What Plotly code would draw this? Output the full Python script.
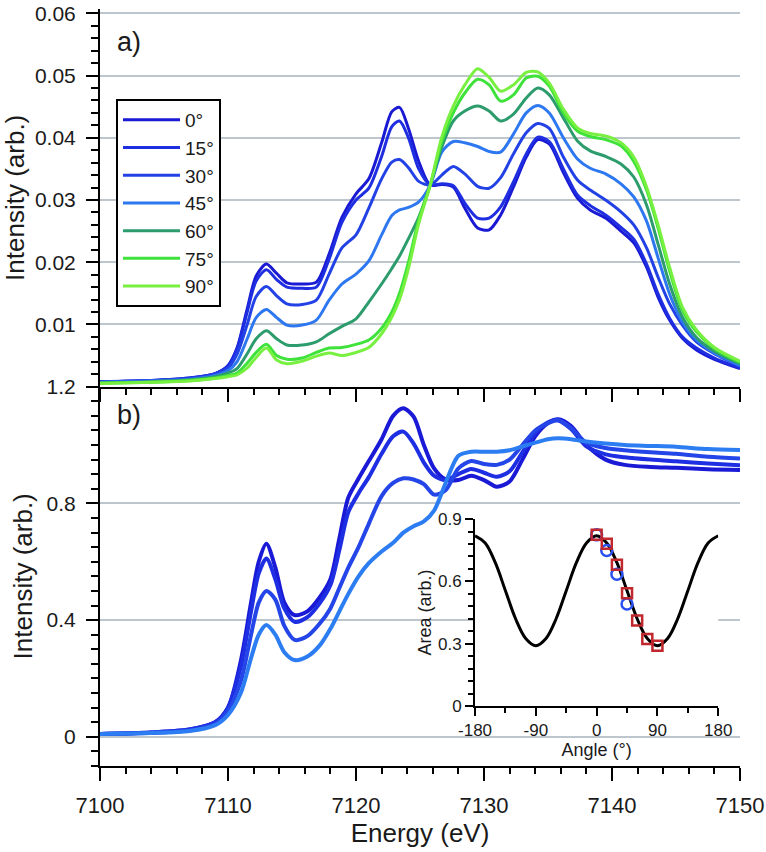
import plotly.graph_objects as go

# ---------------- data ----------------
angle_labels = ["0°", "15°", "30°", "45°", "60°", "75°", "90°"]

energy_top = [7100, 7104, 7107, 7109, 7110, 7110.7, 7111.5, 7112.2, 7113.0, 7113.8, 7114.6, 7115.8,
              7116.9, 7117.9, 7118.9, 7120.0, 7121.0, 7122.0, 7122.8, 7123.4, 7124.1, 7124.9, 7125.8,
              7126.7, 7127.6, 7128.5, 7129.5, 7130.4, 7131.3, 7132.3, 7133.3, 7134.2, 7135.1, 7136.2,
              7137.3, 7138.3, 7139.5, 7140.7, 7141.7, 7142.7, 7143.6, 7144.5, 7145.5, 7146.6, 7148.0, 7150.0]

top_0 = [0.0008, 0.0010, 0.0014, 0.0021, 0.0034, 0.0062, 0.0125, 0.0178, 0.0197, 0.0182, 0.0167, 0.0165,
         0.0168, 0.0213, 0.0272, 0.0310, 0.0334, 0.0392, 0.0442, 0.0449, 0.0415, 0.0362, 0.0324,
         0.0325, 0.0321, 0.0287, 0.0255, 0.0252, 0.0276, 0.0321, 0.0369, 0.0397, 0.0390, 0.0344,
         0.0303, 0.0284, 0.0271, 0.0250, 0.0231, 0.0192, 0.0144, 0.0107, 0.0078, 0.0059, 0.0044, 0.0029]
top_15 = [0.0008, 0.0010, 0.0014, 0.0021, 0.0033, 0.0060, 0.0120, 0.0170, 0.0188, 0.0172, 0.0160, 0.0158,
          0.0160, 0.0205, 0.0264, 0.0300, 0.0319, 0.0370, 0.0418, 0.0427, 0.0400, 0.0350, 0.0324,
          0.0326, 0.0323, 0.0295, 0.0271, 0.0271, 0.0289, 0.0329, 0.0374, 0.0401, 0.0394, 0.0350,
          0.0308, 0.0291, 0.0276, 0.0256, 0.0237, 0.0197, 0.0149, 0.0110, 0.0080, 0.0062, 0.0046, 0.0030]
top_30 = [0.0008, 0.0010, 0.0013, 0.0020, 0.0030, 0.0052, 0.0100, 0.0145, 0.0161, 0.0146, 0.0133, 0.0132,
          0.0139, 0.0181, 0.0223, 0.0244, 0.0287, 0.0334, 0.0361, 0.0365, 0.0352, 0.0330, 0.0324,
          0.0340, 0.0354, 0.0342, 0.0322, 0.0319, 0.0336, 0.0374, 0.0408, 0.0423, 0.0415, 0.0369,
          0.0332, 0.0316, 0.0300, 0.0281, 0.0260, 0.0223, 0.0176, 0.0133, 0.0099, 0.0072, 0.0053, 0.0033]
top_45 = [0.0007, 0.0009, 0.0012, 0.0018, 0.0026, 0.0040, 0.0077, 0.0111, 0.0124, 0.0111, 0.0099, 0.0099,
          0.0107, 0.0139, 0.0165, 0.0181, 0.0202, 0.0244, 0.0275, 0.0284, 0.0288, 0.0297, 0.0324,
          0.0377, 0.0394, 0.0392, 0.0386, 0.0378, 0.0377, 0.0406, 0.0440, 0.0452, 0.0440, 0.0400,
          0.0366, 0.0351, 0.0342, 0.0326, 0.0305, 0.0266, 0.0207, 0.0149, 0.0104, 0.0075, 0.0054, 0.0034]
top_60 = [0.0006, 0.0008, 0.0011, 0.0016, 0.0022, 0.0029, 0.0053, 0.0077, 0.0090, 0.0077, 0.0067, 0.0067,
          0.0072, 0.0085, 0.0097, 0.0109, 0.0136, 0.0165, 0.0190, 0.0210, 0.0238, 0.0272, 0.0324,
          0.0385, 0.0427, 0.0443, 0.0451, 0.0443, 0.0427, 0.0438, 0.0464, 0.0480, 0.0469, 0.0432,
          0.0395, 0.0379, 0.0370, 0.0358, 0.0337, 0.0292, 0.0229, 0.0165, 0.0112, 0.0079, 0.0057, 0.0037]
top_75 = [0.0006, 0.0007, 0.0010, 0.0014, 0.0018, 0.0022, 0.0038, 0.0055, 0.0068, 0.0050, 0.0044, 0.0046,
          0.0055, 0.0062, 0.0063, 0.0068, 0.0075, 0.0094, 0.0120, 0.0150, 0.0200, 0.0268, 0.0324,
          0.0393, 0.0440, 0.0472, 0.0494, 0.0485, 0.0459, 0.0469, 0.0496, 0.0499, 0.0483, 0.0440,
          0.0411, 0.0402, 0.0397, 0.0387, 0.0362, 0.0316, 0.0255, 0.0186, 0.0123, 0.0088, 0.0061, 0.0039]
top_90 = [0.0005, 0.0007, 0.0009, 0.0013, 0.0016, 0.0019, 0.0030, 0.0047, 0.0062, 0.0043, 0.0037, 0.0041,
          0.0049, 0.0054, 0.0050, 0.0055, 0.0063, 0.0085, 0.0112, 0.0140, 0.0190, 0.0262, 0.0324,
          0.0401, 0.0451, 0.0485, 0.0511, 0.0497, 0.0475, 0.0485, 0.0505, 0.0506, 0.0488, 0.0446,
          0.0416, 0.0407, 0.0403, 0.0392, 0.0369, 0.0321, 0.0260, 0.0192, 0.0128, 0.0091, 0.0063, 0.0041]

energy_bot = [7100, 7104, 7107, 7109, 7110, 7111, 7111.8, 7112.4, 7113.0, 7113.7, 7114.4, 7115.2, 7116.2,
              7117.2, 7118.0, 7118.7, 7119.4, 7120.2, 7121.0, 7122.0, 7122.9, 7123.7, 7124.5, 7125.3,
              7126.1, 7127.0, 7128.0, 7129.0, 7130.0, 7131.0, 7132.0, 7133.0, 7134.0, 7135.0, 7135.8,
              7136.8, 7138.0, 7139.5, 7141.0, 7143.0, 7145.0, 7147.5, 7150.0]

bot_a = [0.010, 0.015, 0.025, 0.050, 0.100, 0.260, 0.460, 0.600, 0.662, 0.580, 0.460, 0.417, 0.430,
         0.480, 0.540, 0.680, 0.820, 0.885, 0.945, 1.020, 1.100, 1.126, 1.097, 1.000,
         0.920, 0.882, 0.880, 0.895, 0.880, 0.857, 0.875, 0.950, 1.030, 1.075, 1.088,
         1.065, 1.000, 0.950, 0.932, 0.925, 0.922, 0.917, 0.914]
bot_b = [0.010, 0.015, 0.025, 0.050, 0.100, 0.240, 0.430, 0.560, 0.611, 0.540, 0.440, 0.394, 0.410,
         0.460, 0.520, 0.640, 0.770, 0.835, 0.890, 0.970, 1.030, 1.046, 1.005, 0.940,
         0.895, 0.880, 0.900, 0.918, 0.905, 0.891, 0.910, 0.975, 1.040, 1.078, 1.084,
         1.055, 0.995, 0.968, 0.958, 0.950, 0.944, 0.937, 0.931]
bot_c = [0.010, 0.014, 0.022, 0.045, 0.090, 0.190, 0.350, 0.460, 0.500, 0.470, 0.380, 0.332, 0.345,
         0.390, 0.440, 0.510, 0.580, 0.650, 0.730, 0.825, 0.870, 0.886, 0.882, 0.866,
         0.830, 0.845, 0.920, 0.945, 0.935, 0.932, 0.950, 1.000, 1.050, 1.075, 1.086,
         1.058, 1.008, 0.990, 0.982, 0.975, 0.970, 0.960, 0.954]
bot_d = [0.010, 0.013, 0.020, 0.040, 0.075, 0.150, 0.270, 0.350, 0.383, 0.350, 0.290, 0.263, 0.275,
         0.315, 0.370, 0.430, 0.490, 0.550, 0.595, 0.635, 0.665, 0.700, 0.722, 0.738,
         0.775, 0.870, 0.963, 0.977, 0.977, 0.977, 0.982, 0.995, 1.008, 1.020, 1.023,
         1.020, 1.012, 1.005, 1.000, 0.997, 0.994, 0.986, 0.983]

fit_angle = [-180, -165, -150, -135, -120, -105, -90, -75, -60, -45, -30, -15, 0,
             15, 30, 45, 60, 75, 90, 105, 120, 135, 150, 165, 180]
fit_area = [0.820, 0.785, 0.690, 0.555, 0.420, 0.325, 0.290, 0.325, 0.420, 0.555, 0.690, 0.785, 0.820,
            0.785, 0.690, 0.555, 0.420, 0.325, 0.290, 0.325, 0.420, 0.555, 0.690, 0.785, 0.820]
circ_angle = [0, 15, 30, 45]
circ_area = [0.824, 0.749, 0.634, 0.491]
sq_angle = [0, 15, 30, 45, 60, 75, 90]
sq_area = [0.824, 0.781, 0.680, 0.543, 0.412, 0.322, 0.290]

# ---------------- figure ----------------
FONT = "'Liberation Sans', Arial, Helvetica, sans-serif"
top_series = [top_0, top_15, top_30, top_45, top_60, top_75, top_90]
top_colors = ["#1a1ad4", "#1e2ee0", "#2242e6", "#2d78f0", "#2c9c6c", "#3ee23a", "#78f040"]
bot_series = [bot_a, bot_b, bot_c, bot_d]
bot_colors = ["#1a1ad6", "#1e2ee2", "#2445e8", "#2c7cf2"]

fig = go.Figure()
for name, vals, col in zip(angle_labels, top_series, top_colors):
    fig.add_trace(go.Scatter(x=energy_top, y=vals, mode="lines", name=name,
                             line=dict(color=col, width=3, shape="spline", smoothing=0.8),
                             xaxis="x", yaxis="y"))
for vals, col in zip(bot_series, bot_colors):
    fig.add_trace(go.Scatter(x=energy_bot, y=vals, mode="lines", showlegend=False,
                             line=dict(color=col, width=4, shape="spline", smoothing=0.8),
                             xaxis="x2", yaxis="y2"))
fig.add_trace(go.Scatter(x=fit_angle, y=fit_area, mode="lines", showlegend=False,
                         line=dict(color="black", width=3, shape="spline", smoothing=1.0),
                         xaxis="x3", yaxis="y3"))
fig.add_trace(go.Scatter(x=circ_angle, y=circ_area, mode="markers", showlegend=False,
                         marker=dict(symbol="circle-open", size=11, color="#2a50f0", line=dict(width=2.5)),
                         xaxis="x3", yaxis="y3"))
fig.add_trace(go.Scatter(x=sq_angle, y=sq_area, mode="markers", showlegend=False,
                         marker=dict(symbol="square-open", size=10, color="#c0282d", line=dict(width=2.5)),
                         xaxis="x3", yaxis="y3"))

GRID = "#bcc6cc"
axis_common = dict(showline=True, linecolor="black", linewidth=2, zeroline=False,
                   ticks="outside", tickcolor="black", tickwidth=2, automargin=False,
                   ticklabeloverflow="allow")

split = 0.5011
fig.update_layout(
    width=766, height=852,
    margin=dict(l=100, r=26, t=9, b=86),
    paper_bgcolor="white", plot_bgcolor="white",
    font=dict(family=FONT, color="#1a1a1a"),
    showlegend=True,
    legend=dict(x=0.025, y=0.8811, xanchor="left", yanchor="top", bgcolor="white",
                bordercolor="black", borderwidth=2, font=dict(size=19, family=FONT),
                tracegroupgap=0, itemwidth=57),
    xaxis=dict(domain=[0, 1], anchor="y", range=[7100, 7150], tick0=7100, dtick=10,
               showticklabels=False, ticklen=13, showgrid=False,
               minor=dict(dtick=2, tick0=7100, ticks="outside", ticklen=6, tickwidth=2,
                          tickcolor="black", showgrid=False),
               **axis_common),
    yaxis=dict(domain=[split, 1], anchor="x", range=[0, 0.0607],
               tickvals=[0.01, 0.02, 0.03, 0.04, 0.05, 0.06],
               ticktext=["0.01", "0.02", "0.03", "0.04", "0.05", "0.06"],
               ticklen=12, showgrid=True, gridcolor=GRID, gridwidth=2,
               tickfont=dict(size=21), ticklabelstandoff=6,
               title=dict(text="Intensity (arb.)", font=dict(size=26), standoff=6),
               minor=dict(dtick=0.002, tick0=0, ticks="outside", ticklen=7, tickwidth=2,
                          tickcolor="black", showgrid=False),
               **axis_common),
    xaxis2=dict(domain=[0, 1], anchor="y2", range=[7100, 7150], tick0=7100, dtick=10,
                ticklen=13, showgrid=False, tickfont=dict(size=22), ticklabelstandoff=6,
                title=dict(text="Energy (eV)", font=dict(size=26), standoff=4),
                minor=dict(dtick=2, tick0=7100, ticks="outside", ticklen=6, tickwidth=2,
                           tickcolor="black", showgrid=False),
                **axis_common),
    yaxis2=dict(domain=[0, split], anchor="x2", range=[-0.1, 1.2],
                tickvals=[0, 0.4, 0.8, 1.2], ticktext=["0", "0.4", "0.8", "1.2"],
                ticklen=12, showgrid=True, gridcolor=GRID, gridwidth=2,
                tickfont=dict(size=21), ticklabelstandoff=6,
                title=dict(text="Intensity (arb.)", font=dict(size=26), standoff=6),
                minor=dict(dtick=0.05, tick0=0, ticks="outside", ticklen=7, tickwidth=2,
                           tickcolor="black", showgrid=False),
                **axis_common),
    xaxis3=dict(domain=[0.586, 0.966], anchor="y3", range=[-180, 180],
                tickvals=[-180, -90, 0, 90, 180], ticktext=["-180", "-90", "0", "90", "180"],
                ticklen=8, showgrid=False, tickfont=dict(size=17),
                title=dict(text="Angle (°)", font=dict(size=18), standoff=2),
                minor=dict(dtick=45, tick0=0, ticks="outside", ticklen=5, tickwidth=2,
                           tickcolor="black", showgrid=False),
                **axis_common),
    yaxis3=dict(domain=[0.0793, 0.3263], anchor="x3", range=[0, 0.9005],
                tickvals=[0, 0.3, 0.6, 0.9], ticktext=["0", "0.3", "0.6", "0.9"],
                ticklen=8, showgrid=False, tickfont=dict(size=17),
                title=dict(text="Area (arb.)", font=dict(size=18), standoff=2),
                minor=dict(dtick=0.06, tick0=0, ticks="outside", ticklen=5, tickwidth=2,
                           tickcolor="black", showgrid=False),
                **axis_common),
    annotations=[
        dict(text="a)", x=0.023, y=0.9564, xref="paper", yref="paper", xanchor="left",
             yanchor="middle", showarrow=False, font=dict(size=27, family=FONT)),
        dict(text="b)", x=0.023, y=0.4637, xref="paper", yref="paper", xanchor="left",
             yanchor="middle", showarrow=False, font=dict(size=27, family=FONT)),
    ],
)

fig.write_html("out.html", config={"displayModeBar": False},
               post_script="document.body.style.margin='0px';document.body.style.padding='0px';")
